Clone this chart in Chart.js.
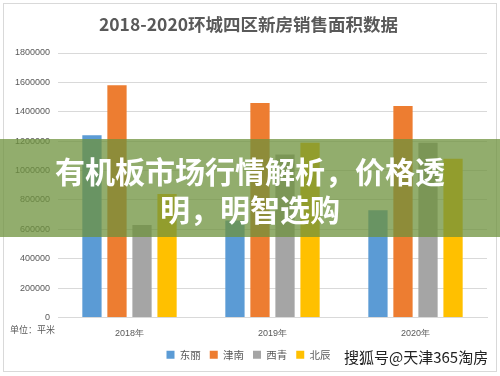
<!DOCTYPE html>
<html lang="zh">
<head>
    <meta charset="UTF-8">
    <title>环城四区新房销售面积</title>
    <script src="https://cdn.jsdelivr.net/npm/chart.js"></script>
    <style>
        body { margin: 0; background: #fff; font-family: "Noto Sans CJK SC", "Noto Sans", sans-serif; }
        #wrap { position: relative; width: 500px; height: 376px; }
        #band {
            position: absolute; left: 0; top: 139px; width: 500px; height: 98px;
            background: rgba(110, 145, 60, 0.75);
        }
        #band p {
            margin: 0; position: absolute; left: 0; width: 500px; text-align: center;
            color: #fff; font-weight: bold; font-size: 30px; line-height: 36px;
            font-family: "Noto Sans CJK SC", sans-serif;
        }
        .note { position: absolute; font-size: 9px; color: #595959; white-space: nowrap; }
        #mark { position: absolute; left: 344px; top: 346px; font-size: 15px; color: #222; white-space: nowrap; }
    </style>
</head>
<body>
<div id="wrap">
    <canvas id="myChart" width="500" height="376"></canvas>
    <div class="note" style="left:10px; top:323px;">单位：平米</div>
    <div id="band">
        <p style="top:13px;">有机板市场行情解析，价格透</p>
        <p style="top:51px;">明，明智选购</p>
    </div>
    <div id="mark">搜狐号@天津365淘房</div>
</div>

<script>
    // 数据
    const years = ['2018年', '2019年', '2020年'];
    const dongli = [1240000, 660000, 730000];
    const jinnan = [1580000, 1460000, 1440000];
    const xiqing = [630000, 1110000, 1190000];
    const beichen = [840000, 1190000, 1080000];

    const frame = {
        id: 'frame',
        beforeDraw(chart) {
            const c = chart.ctx;
            c.save();
            c.fillStyle = '#fff';
            c.fillRect(0, 0, chart.width, chart.height);
            c.strokeStyle = '#d9d9d9';
            c.lineWidth = 1;
            c.strokeRect(3.5, 3.5, 493, 368);
            c.restore();
        }
    };

    const ctx = document.getElementById('myChart').getContext('2d');
    new Chart(ctx, {
        type: 'bar',
        data: {
            labels: years,
            datasets: [
                { label: '东丽', data: dongli, backgroundColor: '#5B9BD5' },
                { label: '津南', data: jinnan, backgroundColor: '#ED7D31' },
                { label: '西青', data: xiqing, backgroundColor: '#A5A5A5' },
                { label: '北辰', data: beichen, backgroundColor: '#FFC000' }
            ]
        },
        options: {
            responsive: false,
            animation: false,
            categoryPercentage: 0.7,
            barPercentage: 0.77,
            layout: { padding: { left: 10, right: 13, top: 4, bottom: 6 } },
            plugins: {
                title: {
                    display: true,
                    text: '2018-2020环城四区新房销售面积数据',
                    color: '#595959',
                    font: { size: 17.5, weight: 'bold', family: '"Noto Sans CJK SC", sans-serif' },
                    padding: { top: 10, bottom: 18 }
                },
                legend: {
                    position: 'bottom',
                    labels: {
                        boxWidth: 8, boxHeight: 8, padding: 9,
                        color: '#595959',
                        font: { size: 10.5, family: '"Noto Sans CJK SC", sans-serif' }
                    }
                },
                tooltip: { enabled: false }
            },
            scales: {
                x: {
                    grid: { display: false },
                    border: { color: '#d9d9d9' },
                    ticks: { color: '#595959', font: { size: 9 }, padding: 3 },
                    afterFit(s) { s.height = 23; }
                },
                y: {
                    min: 0, max: 1800000,
                    grid: { color: '#d9d9d9', drawTicks: false },
                    border: { display: false },
                    ticks: {
                        stepSize: 200000, color: '#595959', font: { size: 9 }, padding: 8,
                        callback: v => String(v)
                    },
                    afterFit(s) { s.width = 48; }
                }
            }
        },
        plugins: [frame]
    });
</script>
</body>
</html>
